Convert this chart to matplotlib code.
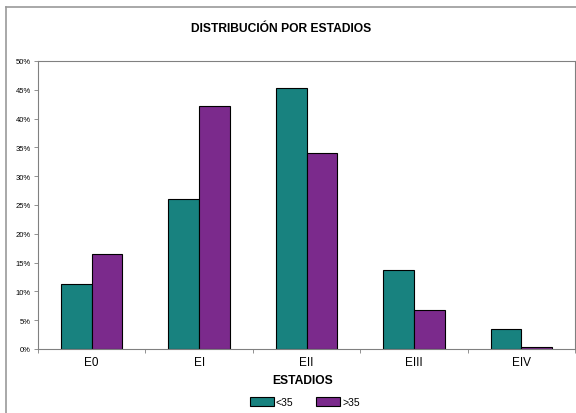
import matplotlib
matplotlib.use("Agg")
import matplotlib.pyplot as plt
import numpy as np
from matplotlib.ticker import MultipleLocator, FuncFormatter

categories = ["E0", "EI", "EII", "EIII", "EIV"]
under35 = [11.2, 26.0, 45.3, 13.8, 3.4]
over35 = [16.5, 42.2, 34.0, 6.7, 0.3]
series_names = ["<35", ">35"]
colors = ["#18827F", "#7B2A8C"]

W, H = 576, 414
fig = plt.figure(figsize=(W / 100, H / 100), dpi=100)
plt.rcParams['font.family'] = ['Liberation Sans', 'DejaVu Sans']

# outer chart border (left and top visible)
fig.add_artist(plt.Line2D([6 / W, 6 / W], [0, 1 - 8 / H], transform=fig.transFigure, color="#999999", lw=1.2))
fig.add_artist(plt.Line2D([6 / W, 1], [1 - 8 / H, 1 - 8 / H], transform=fig.transFigure, color="#999999", lw=1.2))

left, right, top, bottom = 38, 575, 62, 350
ax = fig.add_axes([left / W, 1 - bottom / H, (right - left) / W, (bottom - top) / H])

x = np.arange(len(categories))
bw = 1 / 3.5
ax.bar(x - bw / 2, under35, bw, color=colors[0], edgecolor="black", linewidth=0.8, label=series_names[0])
ax.bar(x + bw / 2, over35, bw, color=colors[1], edgecolor="black", linewidth=0.8, label=series_names[1])

ax.set_xlim(-0.5, len(categories) - 0.5)
ax.set_ylim(0, 50)
ax.yaxis.set_major_locator(MultipleLocator(5))
ax.yaxis.set_major_formatter(FuncFormatter(lambda v, p: f"{int(round(v))}%"))
ax.tick_params(axis="y", labelsize=5.5, length=3, width=0.6, color="#808080", pad=2)

ax.set_xticks(x)
ax.set_xticklabels(categories, fontsize=8.5)
ax.tick_params(axis="x", length=0, pad=5)
ax.set_xticks(np.arange(-0.5, len(categories)), minor=True)
ax.tick_params(axis="x", which="minor", length=3, width=0.6, color="#808080")

for s in ax.spines.values():
    s.set_color("#808080")
    s.set_linewidth(0.8)

fig.text(281 / W, 1 - 29 / H, "DISTRIBUCIÓN POR ESTADIOS", ha="center", va="center",
         fontsize=8.7, fontweight="bold")
fig.text(303 / W, 1 - 381 / H, "ESTADIOS", ha="center", va="center",
         fontsize=8.7, fontweight="bold")

leg = fig.legend(loc="center", bbox_to_anchor=(305 / W, 1 - 403 / H), ncol=2,
                 frameon=False, fontsize=7.5, handlelength=2.3, handleheight=0.9,
                 columnspacing=2.2, handletextpad=0.2)

fig.savefig("out.png", dpi=100)
